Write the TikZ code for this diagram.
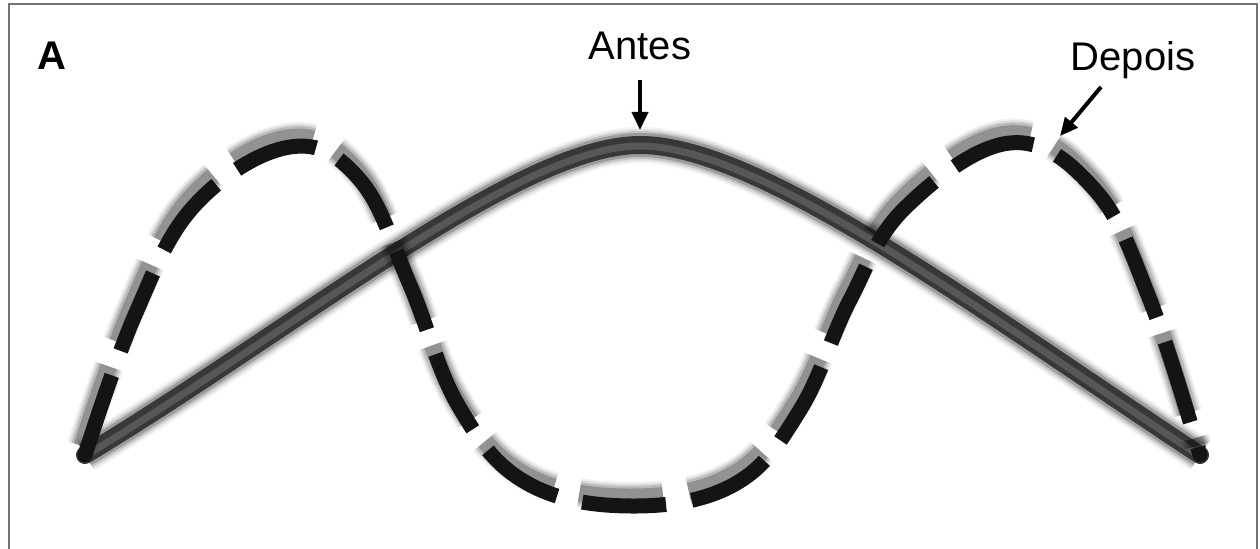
\documentclass[tikz,border=0pt]{standalone}
\usepackage{fontspec}
\setmainfont{Liberation Sans}
\usetikzlibrary{arrows.meta}
\begin{document}
\begin{tikzpicture}[x=0.5pt,y=-0.5pt,
  lbl/.style={font=\fontsize{20}{24}\selectfont, inner sep=0pt},
  ptr/.style={line width=2pt, -{Triangle[length=9pt,width=8pt]}},
  frame/.style={draw=black!55, line width=1pt},
  dashpat/.style={dash pattern=on 42pt off 13pt, dash phase=0pt},
  halo/.style={line cap=butt, line join=round}]
\useasboundingbox (0,0) rectangle (1260,549);
\draw[frame] (9,570) -- (9,4) -- (1257,4) -- (1257,570);
\def\antespath{(85,455) .. controls (300,325) and (520,145) .. (640,145) .. controls (760,145) and (980,310) .. (1200,455)}
\def\depoispath{plot[smooth, tension=0.65] coordinates {(85,455) (135,315) (195,205) (290,147) (360,180) (410,285) (458,405) (525,482) (630,506) (735,484) (800,410) (850,300) (905,208) (1010,143) (1095,190) (1150,300) (1200,455)}}
% Antes curve (soft grey tube)
\foreach \w/\o in {36/0.06, 32/0.1, 28/0.16, 24/0.28}{
  \draw[line width=\w*0.5pt, opacity=\o, black!80, line join=round] \antespath;}
\draw[line width=9pt, black!78, line join=round, line cap=round] \antespath;
\draw[line width=3.5pt, black!66, line join=round, shift={(0,1)}] \antespath;
% Depois curve (dashed, shaded upward)
\begin{scope}[shift={(-3,-9)}]
\foreach \w/\o in {30/0.06, 26/0.09, 22/0.14, 17/0.22}{
  \draw[line width=\w*0.5pt, opacity=\o, black, dashpat, halo] \depoispath;}
\end{scope}
\draw[line width=7.5pt, black!92, dashpat, halo] \depoispath;
\fill[black!92] (85,455) circle (7.5);
\fill[black!92] (1200,455) circle (7.5);
% labels and pointers
\node[lbl, font=\fontsize{20}{24}\selectfont\bfseries] (lblA) at (52,56) {A};
\node[lbl] (antes) at (640,46) {Antes};
\node[lbl] (depois) at (1133,60) {Depois};
\coordinate (antesTip) at (640,130);
\coordinate (antesTail) at (640,80);
\coordinate (depoisTip) at (1060,136);
\coordinate (depoisTail) at (1101,87);
\draw[ptr] (antesTail) -- (antesTip);
\draw[ptr] (depoisTail) -- (depoisTip);
\end{tikzpicture}
\end{document}
